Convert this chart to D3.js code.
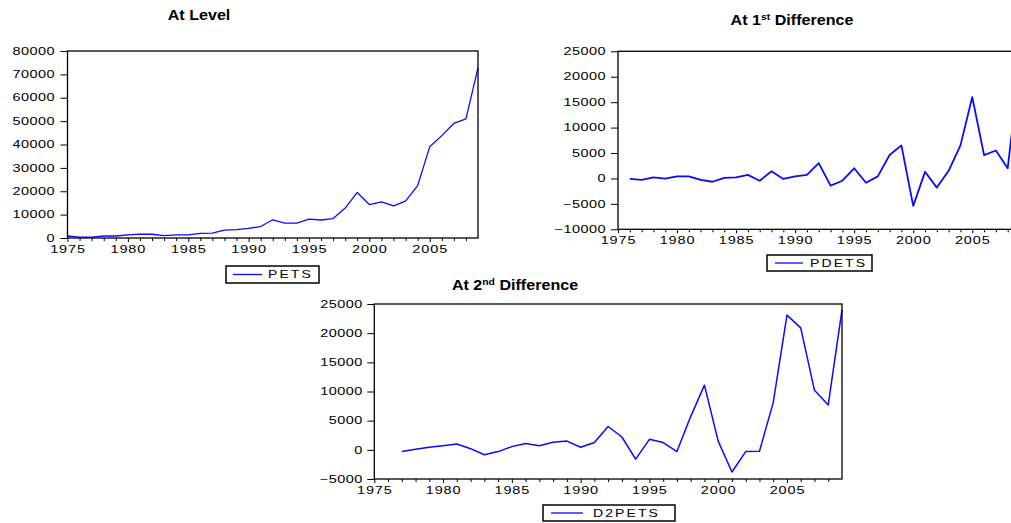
<!DOCTYPE html>
<html><head><meta charset="utf-8">
<script src="https://cdn.jsdelivr.net/npm/d3@7"></script>
<style>
html,body{margin:0;padding:0;background:#fff;overflow:hidden}
svg{display:block}
text{font-family:Arial,"Liberation Sans",sans-serif;fill:#000}
</style></head><body>
<svg id="c" width="1011" height="523"></svg>
<script>
// ---- data ----
const yearsLevel = [1975,1976,1977,1978,1979,1980,1981,1982,1983,1984,1985,1986,1987,1988,1989,1990,1991,1992,1993,1994,1995,1996,1997,1998,1999,2000,2001,2002,2003,2004,2005,2006,2007,2008,2009];
const petsValues = [850,400,400,850,850,1300,1700,1600,1000,1300,1300,2000,2100,3400,3600,4100,4900,7800,6400,6400,8100,7700,8300,12800,19500,14300,15500,13700,15800,22400,39000,43800,49000,51000,72800];
const yearsDiff1 = [1976,1977,1978,1979,1980,1981,1982,1983,1984,1985,1986,1987,1988,1989,1990,1991,1992,1993,1994,1995,1996,1997,1998,1999,2000,2001,2002,2003,2004,2005,2006,2007,2008,2009];
const pdetsValues = [-100,-300,200,-50,400,400,-300,-650,100,200,700,-450,1400,-100,400,700,3000,-1400,-450,2000,-850,400,4600,6500,-5400,1300,-1800,1500,6500,16000,4600,5500,2000,21800];
const yearsDiff2 = [1977,1978,1979,1980,1981,1982,1983,1984,1985,1986,1987,1988,1989,1990,1991,1992,1993,1994,1995,1996,1997,1998,1999,2000,2001,2002,2003,2004,2005,2006,2007,2008,2009];
const d2petsValues = [-300,100,450,700,1000,200,-850,-300,550,1100,700,1300,1500,450,1250,4000,2200,-1600,1800,1250,-300,5700,11100,1500,-3800,-300,-250,8100,23100,20900,10200,7700,24000];
const xMajorTicks = [1975,1980,1985,1990,1995,2000,2005];
const xMinorTicks = [1976,1977,1978,1979,1981,1982,1983,1984,1986,1987,1988,1989,1991,1992,1993,1994,1996,1997,1998,1999,2001,2002,2003,2004,2006,2007,2008];
const yTicksLevel = [0,10000,20000,30000,40000,50000,60000,70000,80000];
const yTicksDiff1 = [-10000,-5000,0,5000,10000,15000,20000,25000];
const yTicksDiff2 = [-5000,0,5000,10000,15000,20000,25000];

// ---- layout ----
const panels = [
  {title:"At Level", sup:null, titleRest:null, tx:199, ty:20,
   x0:67.5, x1:478, y0:51, y1:238, yDom:[0,80000], yTicks:yTicksLevel,
   years:yearsLevel, vals:petsValues, name:"PETS", lw:1.3, labOff:12.5,
   leg:{x:226,y:266,w:93,h:17,l0:233,l1:262,t:268}},
  {title:"At 1", sup:"st", titleRest:" Difference", tx:792, ty:25,
   x0:618, x1:1019.5, y0:51.3, y1:229.3, yDom:[-10000,25000], yTicks:yTicksDiff1,
   years:yearsDiff1, vals:pdetsValues, name:"PDETS", lw:1.8, labOff:12,
   leg:{x:767,y:255,w:105,h:16,l0:775,l1:803,t:810}},
  {title:"At 2", sup:"nd", titleRest:" Difference", tx:515, ty:290,
   x0:374.3, x1:842, y0:304, y1:479, yDom:[-5000,25000], yTicks:yTicksDiff2,
   years:yearsDiff2, vals:d2petsValues, name:"D2PETS", lw:1.5, labOff:11.5,
   leg:{x:543,y:505,w:132,h:16,l0:551,l1:583,t:593}}
];

const svg = d3.select("#c");
const SX = 1.45;   // horizontal stretch of the small labels
const BLUE = "#0a0aff";

panels.forEach(p => {
  const x = d3.scaleLinear().domain([1975,2009]).range([p.x0,p.x1]);
  const y = d3.scaleLinear().domain(p.yDom).range([p.y1,p.y0]);
  const g = svg.append("g");

  // title
  const t = g.append("text")
    .attr("transform",`translate(${p.tx},${p.ty}) scale(1.15,1)`)
    .attr("text-anchor","middle")
    .style("font-size","14px").style("font-weight","bold");
  t.append("tspan").text(p.title);
  if (p.sup) {
    t.append("tspan").text(p.sup).attr("dy",-5).style("font-size","9px");
    t.append("tspan").text(p.titleRest).attr("dy",5);
  }

  // y axis
  const ya = g.append("g").attr("transform",`translate(${p.x0},0)`)
    .call(d3.axisLeft(y).tickValues(p.yTicks).tickSize(7).tickFormat(d3.format("d")));
  ya.select(".domain").remove();
  ya.selectAll("line").attr("stroke","#000");
  ya.selectAll("text")
    .style("font-size","10px").attr("fill","#000")
    .attr("x", -p.labOff/SX).attr("transform",`scale(${SX},1)`)
    .style("letter-spacing","0.3px");

  // x axis major
  const xa = g.append("g").attr("transform",`translate(0,${p.y1})`)
    .call(d3.axisBottom(x).tickValues(xMajorTicks).tickSize(4).tickPadding(4).tickFormat(d3.format("d")));
  xa.select(".domain").remove();
  xa.selectAll("line").attr("stroke","#000");
  xa.selectAll("text").style("font-size","10px").attr("fill","#000")
    .attr("transform",`scale(${SX},1)`).style("letter-spacing","0.6px");
  // minor ticks
  const xm = g.append("g").attr("transform",`translate(0,${p.y1})`)
    .call(d3.axisBottom(x).tickValues(xMinorTicks).tickSize(3).tickFormat(""));
  xm.select(".domain").remove();
  xm.selectAll("line").attr("stroke","#000");

  // series line
  const pts = p.years.map((yr,i)=>[yr,p.vals[i]]);
  g.append("path").datum(pts)
    .attr("fill","none").attr("stroke",BLUE).attr("stroke-width",p.lw)
    .attr("stroke-linejoin","round")
    .attr("d", d3.line().x(d=>x(d[0])).y(d=>y(d[1])));

  // frame
  g.append("rect").attr("x",p.x0).attr("y",p.y0)
    .attr("width",p.x1-p.x0).attr("height",p.y1-p.y0)
    .attr("fill","none").attr("stroke","#000").attr("stroke-width",1.3);

  // legend
  const L = p.leg;
  g.append("rect").attr("x",L.x).attr("y",L.y).attr("width",L.w).attr("height",L.h)
    .attr("fill","#fff").attr("stroke","#000").attr("stroke-width",1.5);
  g.append("line").attr("x1",L.l0).attr("x2",L.l1)
    .attr("y1",L.y+L.h/2).attr("y2",L.y+L.h/2)
    .attr("stroke",BLUE).attr("stroke-width",1.3);
  g.append("text").text(p.name)
    .attr("transform",`translate(${L.t},${L.y+L.h/2+3.6}) scale(1.4,1)`)
    .style("font-size","10px").style("letter-spacing","1.5px");
});
</script>
</body></html>
